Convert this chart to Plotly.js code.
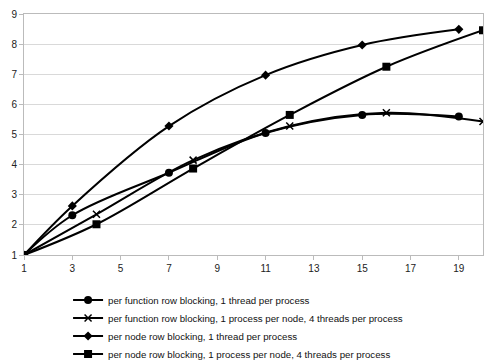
<!DOCTYPE html>
<html><head><meta charset="utf-8">
<script src="https://cdn.plot.ly/plotly-3.0.1.min.js"></script>
<style>body{margin:0;background:#fff}#c{width:485px;height:360px}</style>
</head><body><div id="c"></div>
<script>
const xA = [1, 3, 7, 11, 15, 19];
const xB = [1, 4, 8, 12, 16, 20];
const names = [
  "per function row blocking, 1 thread per process",
  "per function row blocking, 1 process per node, 4 threads per process",
  "per node row blocking, 1 thread per process",
  "per node row blocking, 1 process per node, 4 threads per process"
];
const yFuncSingle = [1, 2.32, 3.73, 5.05, 5.65, 5.6];
const yFuncMulti = [1, 2.35, 4.15, 5.28, 5.72, 5.43];
const yNodeSingle = [1, 2.63, 5.28, 6.97, 7.97, 8.49];
const yNodeMulti = [1, 2.02, 3.87, 5.65, 7.25, 8.46];
const xTicks = [1, 3, 5, 7, 9, 11, 13, 15, 17, 19];

function tr(x, y, name, symbol, size, lg) {
  return {x, y, name, legend: lg, type: 'scatter', mode: 'lines+markers',
    line: {color: '#000', width: 2, shape: 'spline', smoothing: 1},
    marker: {symbol, size, color: '#000', line: {color: '#000', width: symbol === 'x-thin' ? 1.5 : 0}}};
}
const data = [
  tr(xA, yFuncSingle, names[0], 'circle', 8, 'legend'),
  tr(xB, yFuncMulti, names[1], 'x-thin', 7, 'legend2'),
  tr(xA, yNodeSingle, names[2], 'diamond', 7, 'legend3'),
  tr(xB, yNodeMulti, names[3], 'square', 8, 'legend4')
];
function lg(yv) {
  return {x: 0.096, xanchor: 'left', y: yv, yanchor: 'middle', orientation: 'v',
    bgcolor: 'rgba(0,0,0,0)', font: {size: 9.7, color: '#111'}, itemwidth: 30};
}
const layout = {
  width: 485, height: 360,
  margin: {l: 24, r: 2, t: 14, b: 105, autoexpand: false},
  paper_bgcolor: '#fff', plot_bgcolor: '#fff',
  font: {family: 'Liberation Sans, Arial, sans-serif', size: 10, color: '#222'},
  showlegend: true,
  legend: lg(-0.1867), legend2: lg(-0.2614), legend3: lg(-0.3361), legend4: lg(-0.4108),
  xaxis: {range: [1, 20], tickvals: xTicks, ticks: 'outside', ticklen: 4, tickcolor: '#bbb',
    showgrid: false, zeroline: false, showline: true, linecolor: '#bbb', linewidth: 1, mirror: true,
    tickfont: {size: 10, color: '#222'}},
  yaxis: {range: [1, 9], dtick: 1, ticks: 'outside', ticklen: 4, tickcolor: '#bbb',
    showgrid: true, gridcolor: '#d9d9d9', gridwidth: 1, zeroline: false,
    showline: true, linecolor: '#bbb', linewidth: 1, mirror: true,
    tickfont: {size: 10, color: '#222'}}
};
Plotly.newPlot('c', data, layout, {displayModeBar: false, staticPlot: true});
</script></body></html>
